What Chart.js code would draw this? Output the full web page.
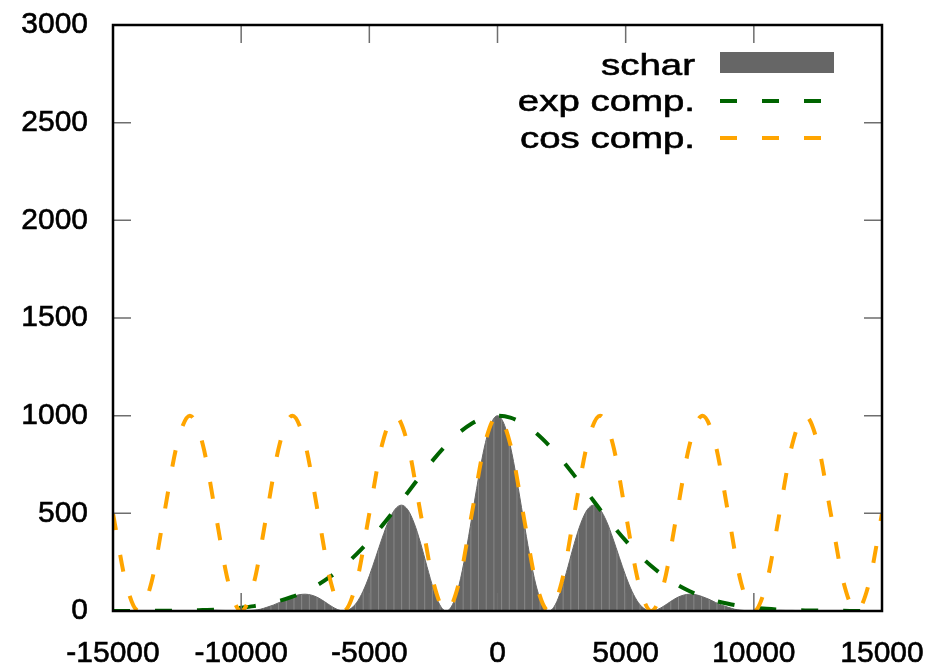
<!DOCTYPE html>
<html>
<head>
<meta charset="utf-8">
<script src="https://cdn.jsdelivr.net/npm/chart.js@4.4.0/dist/chart.umd.min.js"></script>
<style>
  html, body { margin: 0; padding: 0; background: #fff; }
  #chart { display: block; }
</style>
</head>
<body>
<canvas id="chart" width="946" height="665"></canvas>
<script>
// Sample positions (x) for the two dashed components, every 500
const xComp = [
    -15000, -14500, -14000, -13500, -13000, -12500, -12000, -11500, -11000, -10500,
    -10000, -9500, -9000, -8500, -8000, -7500, -7000, -6500, -6000, -5500,
    -5000, -4500, -4000, -3500, -3000, -2500, -2000, -1500, -1000, -500,
    0, 500, 1000, 1500, 2000, 2500, 3000, 3500, 4000, 4500,
    5000, 5500, 6000, 6500, 7000, 7500, 8000, 8500, 9000, 9500,
    10000, 10500, 11000, 11500, 12000, 12500, 13000, 13500, 14000, 14500, 15000
];

// exp comp. (green dashed envelope)
const expComp = [
    0, 0, 0, 1, 1, 2, 3, 5, 7, 11,
    17, 25, 37, 52, 73, 101, 135, 178, 230, 291,
    360, 437, 520, 607, 693, 775, 849, 912, 960, 990,
    1000, 990, 960, 912, 849, 775, 693, 607, 520, 437,
    360, 291, 230, 178, 135, 101, 73, 52, 37, 25,
    17, 11, 7, 5, 3, 2, 1, 1, 0, 0, 0
];

// cos comp. (orange dashed)
const cosComp = [
    500, 146, 0, 146, 500, 854, 1000, 854, 500, 146,
    0, 146, 500, 854, 1000, 854, 500, 146, 0, 146,
    500, 854, 1000, 854, 500, 146, 0, 146, 500, 854,
    1000, 854, 500, 146, 0, 146, 500, 854, 1000, 854,
    500, 146, 0, 146, 500, 854, 1000, 854, 500, 146,
    0, 146, 500, 854, 1000, 854, 500, 146, 0, 146, 500
];

// Sample positions for the filled schar curve, every 250
const xSchar = [
    -15000, -14750, -14500, -14250, -14000, -13750, -13500, -13250, -13000, -12750,
    -12500, -12250, -12000, -11750, -11500, -11250, -11000, -10750, -10500, -10250,
    -10000, -9750, -9500, -9250, -9000, -8750, -8500, -8250, -8000, -7750,
    -7500, -7250, -7000, -6750, -6500, -6250, -6000, -5750, -5500, -5250,
    -5000, -4750, -4500, -4250, -4000, -3750, -3500, -3250, -3000, -2750,
    -2500, -2250, -2000, -1750, -1500, -1250, -1000, -750, -500, -250,
    0, 250, 500, 750, 1000, 1250, 1500, 1750, 2000, 2250,
    2500, 2750, 3000, 3250, 3500, 3750, 4000, 4250, 4500, 4750,
    5000, 5250, 5500, 5750, 6000, 6250, 6500, 6750, 7000, 7250,
    7500, 7750, 8000, 8250, 8500, 8750, 9000, 9250, 9500, 9750,
    10000, 10250, 10500, 10750, 11000, 11250, 11500, 11750, 12000, 12250,
    12500, 12750, 13000, 13250, 13500, 13750, 14000, 14250, 14500, 14750, 15000
];

const schar = [
    0, 0, 0, 0, 0, 0, 0, 0, 0, 1,
    1, 1, 2, 2, 3, 3, 4, 3, 2, 0,
    0, 1, 4, 9, 19, 30, 44, 60, 73, 83,
    86, 81, 68, 48, 26, 8, 0, 10, 42, 100,
    180, 275, 373, 460, 520, 542, 518, 449, 347, 227,
    113, 31, 0, 34, 133, 290, 480, 675, 845, 959,
    1000, 959, 845, 675, 480, 290, 133, 34, 0, 31,
    113, 227, 347, 449, 518, 542, 520, 460, 373, 275,
    180, 100, 42, 10, 0, 8, 26, 48, 68, 81,
    86, 83, 73, 60, 44, 30, 19, 9, 4, 1,
    0, 0, 2, 3, 4, 3, 3, 2, 2, 1,
    1, 1, 0, 0, 0, 0, 0, 0, 0, 0, 0
];

const xTicks = [-15000, -10000, -5000, 0, 5000, 10000, 15000];
const yTicks = [0, 500, 1000, 1500, 2000, 2500, 3000];

const labels = ['schar', 'exp comp.', 'cos comp.'];

const toPoints = (xs, ys) => xs.map((x, i) => ({ x: x, y: ys[i] }));

const font = { family: '"Liberation Sans", Arial, Helvetica, sans-serif', size: 30 };

// gray fill with thin light stripes every 300 units (~7.69px)
function stripeFill() {
    const c = document.createElement('canvas');
    c.width = 946;
    c.height = 4;
    const g = c.getContext('2d');
    g.fillStyle = '#666666';
    g.fillRect(0, 0, c.width, c.height);
    g.fillStyle = 'rgba(200, 200, 200, 0.35)';
    for (let px = 116.6 % 7.69; px < c.width; px += 7.69) {
        g.fillRect(px, 0, 1, c.height);
    }
    return g.createPattern(c, 'repeat-y');
}

// Box with inward tick marks on all four sides
const frame = {
    id: 'frame',
    afterDraw(chart) {
        const { ctx, chartArea: a, scales } = chart;
        ctx.save();
        ctx.strokeStyle = '#6e6e6e';
        ctx.lineWidth = 1.5;
        ctx.beginPath();
        scales.y.ticks.forEach(t => {
            const py = scales.y.getPixelForValue(t.value);
            ctx.moveTo(a.left, py); ctx.lineTo(a.left + 18, py);
            ctx.moveTo(a.right, py); ctx.lineTo(a.right - 18, py);
        });
        scales.x.ticks.forEach(t => {
            const px = scales.x.getPixelForValue(t.value);
            ctx.moveTo(px, a.bottom); ctx.lineTo(px, a.bottom - 18);
            ctx.moveTo(px, a.top); ctx.lineTo(px, a.top + 18);
        });
        ctx.stroke();
        ctx.strokeStyle = '#000';
        ctx.lineWidth = 2.5;
        ctx.strokeRect(a.left, a.top, a.right - a.left, a.bottom - a.top);
        ctx.restore();
    }
};

// Key in the top right corner: wide right-aligned text, sample on its right
const keyBox = {
    id: 'keyBox',
    afterDraw(chart) {
        const { ctx } = chart;
        const rows = [75, 111, 148];
        const stretch = 1.28;
        chart.data.datasets.forEach((ds, i) => {
            ctx.save();
            ctx.font = `${font.size}px ${font.family}`;
            ctx.textAlign = 'right';
            ctx.textBaseline = 'alphabetic';
            ctx.fillStyle = '#000';
            ctx.strokeStyle = '#000';
            ctx.lineWidth = 0.6;
            ctx.translate(695, rows[i]);
            ctx.scale(stretch, 1);
            ctx.fillText(ds.label, 0, 0);
            ctx.strokeText(ds.label, 0, 0);
            ctx.restore();

            ctx.save();
            if (i === 0) {
                ctx.fillStyle = '#666666';
                ctx.fillRect(720, 52, 114, 21);
            } else {
                const ly = rows[i] - 10;
                ctx.strokeStyle = ds.borderColor;
                ctx.lineWidth = ds.borderWidth;
                ctx.setLineDash(ds.borderDash);
                ctx.beginPath();
                ctx.moveTo(720, ly);
                ctx.lineTo(834, ly);
                ctx.stroke();
            }
            ctx.restore();
        });
    }
};

const ctx = document.getElementById('chart').getContext('2d');

new Chart(ctx, {
    type: 'line',
    data: {
        datasets: [{
            label: labels[0],
            data: toPoints(xSchar, schar),
            backgroundColor: stripeFill(),
            borderColor: '#666666',
            borderWidth: 1,
            fill: 'origin',
            cubicInterpolationMode: 'monotone',
            order: 3
        }, {
            label: labels[1],
            data: toPoints(xComp, expComp),
            borderColor: '#006400',
            borderWidth: 4,
            borderDash: [17, 25],
            fill: false,
            cubicInterpolationMode: 'monotone',
            order: 2
        }, {
            label: labels[2],
            data: toPoints(xComp, cosComp),
            borderColor: '#ffa500',
            borderWidth: 4,
            borderDash: [17, 25],
            fill: false,
            cubicInterpolationMode: 'monotone',
            order: 1
        }]
    },
    options: {
        responsive: false,
        animation: false,
        devicePixelRatio: 1,
        layout: { padding: { top: 25, right: 64, left: 0, bottom: 0 } },
        elements: { point: { radius: 0 } },
        plugins: {
            legend: { display: false },
            tooltip: { enabled: false }
        },
        scales: {
            x: {
                type: 'linear',
                min: -15000,
                max: 15000,
                afterBuildTicks: s => { s.ticks = xTicks.map(v => ({ value: v })); },
                afterFit: s => {
                    s.height = 54;
                    s.paddingLeft = 0;
                    s.paddingRight = 0;
                },
                ticks: {
                    color: '#000',
                    font: font,
                    padding: 25,
                    maxRotation: 0,
                    autoSkip: false,
                    textStrokeColor: '#000',
                    textStrokeWidth: 0.6,
                    callback: v => String(v)
                },
                grid: { display: false, drawTicks: false },
                border: { display: false }
            },
            y: {
                min: 0,
                max: 3000,
                afterBuildTicks: s => { s.ticks = yTicks.map(v => ({ value: v })); },
                afterFit: s => {
                    s.width = 113;
                    s.paddingTop = 0;
                    s.paddingBottom = 0;
                },
                ticks: {
                    color: '#000',
                    font: font,
                    padding: 25,
                    textStrokeColor: '#000',
                    textStrokeWidth: 0.6,
                    callback: v => String(v)
                },
                grid: { display: false, drawTicks: false },
                border: { display: false }
            }
        }
    },
    plugins: [frame, keyBox]
});
</script>
</body>
</html>
